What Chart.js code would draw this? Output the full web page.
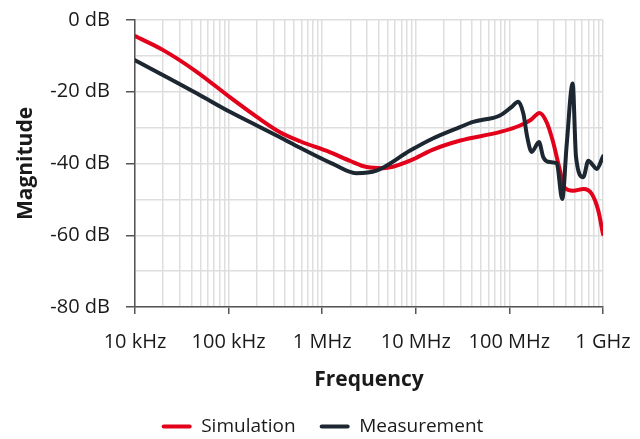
<!DOCTYPE html>
<html>
<head>
<meta charset="utf-8">
<script src="https://cdn.jsdelivr.net/npm/chart.js@4/dist/chart.umd.min.js"></script>
<style>
  html, body { margin: 0; padding: 0; background: #fff; }
  #wrap { width: 640px; height: 439px; position: relative; }
</style>
</head>
<body>
<div id="wrap"><canvas id="magnitude-chart"></canvas></div>
<script>
// frequency (Hz) and magnitude (dB)
const simFreq = [1e4, 2e4, 4.6e4, 1.03e5, 2e5, 3.5e5, 5.8e5, 1.2e6, 2e6, 3e6, 4.5e6, 8.7e6,
  1.5e7, 3e7, 8e7, 1.3e8, 1.7e8, 2.1e8, 2.5e8, 2.9e8, 3.4e8, 3.9e8, 4.8e8, 6.2e8, 7.6e8, 8.9e8, 1e9];
const simMag = [-4.5, -8.4, -14.5, -21.5, -27, -31.2, -33.8, -36.8, -39.3, -41, -41.3, -39.2,
  -36.2, -33.6, -31.2, -29.4, -27.8, -25.9, -28.5, -33.6, -41, -46.8, -47.6, -47.1, -48.5, -53.1, -59.7];

const measFreq = [1e4, 2e4, 4.6e4, 1.03e5, 2e5, 3.5e5, 5.8e5, 1.3e6, 2.3e6, 3.8e6, 8.7e6, 1.5e7,
  3e7, 4.1e7, 7.9e7, 1.06e8, 1.24e8, 1.41e8, 1.55e8, 1.73e8, 2.07e8, 2.3e8, 2.72e8, 3.2e8, 3.67e8,
  4.1e8, 4.74e8, 5.15e8, 6.16e8, 6.97e8, 7.87e8, 8.57e8, 1e9];
const measMag = [-11.2, -15.4, -20.5, -25.6, -29.4, -32.6, -35.6, -40.1, -42.7, -42, -36.4, -33.1,
  -29.8, -28.4, -26.6, -24.2, -22.8, -26.1, -32.6, -36.8, -34, -38.2, -39.6, -39.9, -49.9,
  -34.5, -17.7, -38.2, -43.8, -39.2, -40.6, -41.5, -38];

const decadeVals = [1e4, 1e5, 1e6, 1e7, 1e8, 1e9];
const decadeLabels = ["10 kHz", "100 kHz", "1 MHz", "10 MHz", "100 MHz", "1 GHz"];

const RED = "#e2001a";
const DARK = "#1d2731";
const GRID = "#dedede";
const AXIS = "#555555";
const FONT = "'Open Sans', 'Noto Sans', sans-serif";

const toPoints = (xs, ys) => xs.map((x, i) => ({ x: x, y: ys[i] }));

// grid positions 1..9 per decade (label only on decades)
const gridVals = [];
decadeVals.forEach((d, i) => {
  const top = i === decadeVals.length - 1 ? 1 : 9;
  for (let m = 1; m <= top; m++) gridVals.push(d * m);
});

// legend: fixed height, nudged right like the original
const legendTweak = {
  id: "legendTweak",
  beforeInit(chart) {
    const legend = chart.legend;
    const fit = legend.fit;
    legend.fit = function () {
      fit.call(this);
      this.height = 46;
    };
  },
  afterLayout(chart) {
    chart.legend.left += 21;
    chart.legend.right += 21;
  },
};

const chart = new Chart(document.querySelector("#magnitude-chart"), {
  type: "line",
  data: {
    datasets: [
      {
        label: "Simulation",
        data: toPoints(simFreq, simMag),
        borderColor: RED,
        backgroundColor: RED,
        borderWidth: 4,
        pointRadius: 0,
        cubicInterpolationMode: "monotone",
        borderCapStyle: "round",
        borderJoinStyle: "round",
        order: 1,
      },
      {
        label: "Measurement",
        data: toPoints(measFreq, measMag),
        borderColor: DARK,
        backgroundColor: DARK,
        borderWidth: 4,
        pointRadius: 0,
        cubicInterpolationMode: "monotone",
        borderCapStyle: "round",
        borderJoinStyle: "round",
        order: 0,
      },
    ],
  },
  options: {
    responsive: true,
    maintainAspectRatio: false,
    animation: false,
    layout: { padding: { top: 20, right: 37, left: 0, bottom: 0 } },
    scales: {
      x: {
        type: "logarithmic",
        min: 1e4,
        max: 1e9,
        afterBuildTicks: (scale) => {
          scale.ticks = gridVals.map((v) => ({ value: v }));
        },
        afterFit: (scale) => {
          scale.height = 86;
          scale.paddingLeft = 0;
          scale.paddingRight = 0;
        },
        ticks: {
          autoSkip: false,
          maxRotation: 0,
          padding: 16,
          color: "#1a1a1a",
          font: { family: FONT, size: 20 },
          callback: (value) => {
            const i = decadeVals.indexOf(value);
            return i >= 0 ? decadeLabels[i] : "";
          },
        },
        grid: {
          color: GRID,
          lineWidth: 1.5,
          tickLength: 7,
          tickColor: (ctx) => (ctx.tick && decadeVals.includes(ctx.tick.value) ? AXIS : "transparent"),
        },
        border: { color: AXIS, width: 1.5 },
        title: {
          display: true,
          text: "Frequency",
          color: "#1a1a1a",
          font: { family: FONT, size: 21, weight: "bold" },
          padding: { top: 0, bottom: 0 },
        },
      },
      y: {
        min: -80,
        max: 0,
        afterFit: (scale) => {
          scale.width = 135;
          scale.paddingTop = 0;
          scale.paddingBottom = 0;
        },
        ticks: {
          stepSize: 5,
          padding: 16,
          color: "#1a1a1a",
          font: { family: FONT, size: 20 },
          callback: (value) => (value % 20 === 0 ? value + " dB" : ""),
        },
        grid: {
          color: GRID,
          lineWidth: 1.5,
          tickLength: 9,
          tickColor: (ctx) => (ctx.tick && ctx.tick.value % 20 === 0 ? AXIS : "transparent"),
        },
        border: { color: AXIS, width: 1.5 },
        title: {
          display: true,
          text: "Magnitude",
          color: "#1a1a1a",
          font: { family: FONT, size: 21, weight: "bold" },
          padding: { top: 13, bottom: 0 },
        },
      },
    },
    plugins: {
      legend: {
        position: "bottom",
        labels: {
          boxWidth: 30,
          boxHeight: 4,
          useBorderRadius: true,
          borderRadius: 2,
          padding: 24,
          color: "#1a1a1a",
          font: { family: FONT, size: 19 },
          sort: (a, b) => a.datasetIndex - b.datasetIndex,
          generateLabels: (c) =>
            Chart.defaults.plugins.legend.labels.generateLabels(c).map((l) => ({ ...l, lineWidth: 0 })),
        },
      },
      tooltip: { enabled: false },
    },
  },
  plugins: [legendTweak],
});
</script>
</body>
</html>
